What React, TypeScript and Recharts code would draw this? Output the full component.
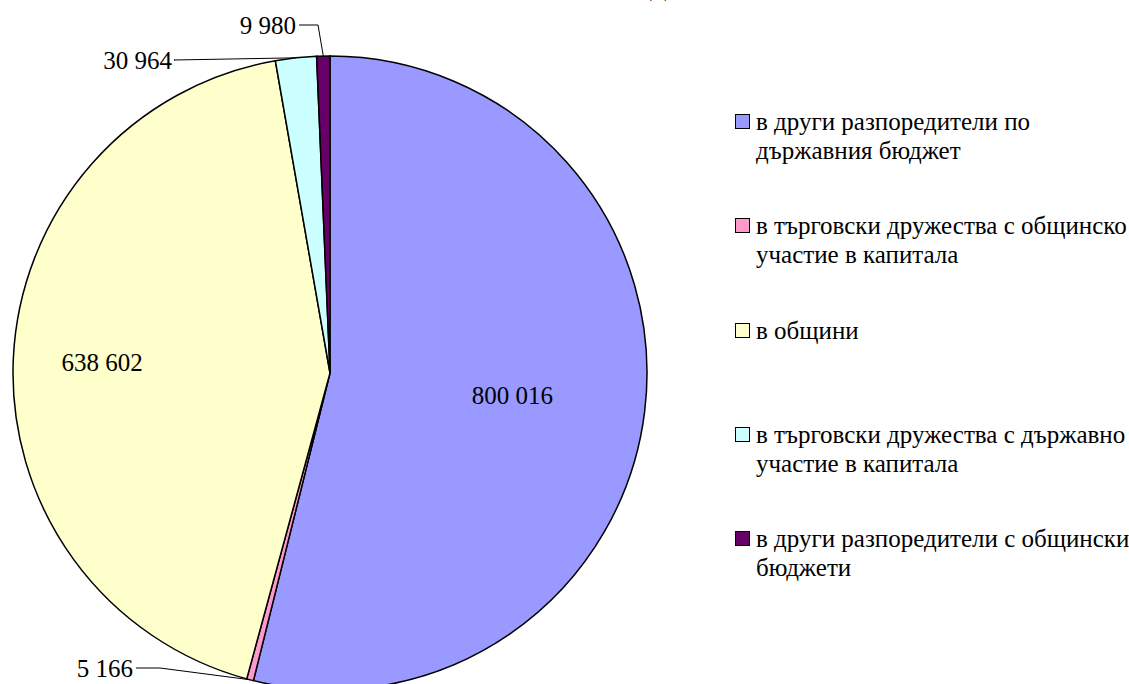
import React from 'react';
import { PieChart, Pie, Cell, Legend } from 'recharts';

// slice names, in drawing order (clockwise from 12 o'clock)
const names = [
  'в други разпоредители по държавния бюджет',
  'в търговски дружества с общинско участие в капитала',
  'в общини',
  'в търговски дружества с държавно участие в капитала',
  'в други разпоредители с общински бюджети',
];
const amounts = [800016, 5166, 638602, 30964, 9980];
const colors = ['#9999FF', '#FF99CC', '#FFFFCC', '#CCFFFF', '#660066'];

const data = names.map((name, i) => ({ name, value: amounts[i] }));

const FONT = 'Liberation Serif';
const RAD = Math.PI / 180;

const fmt = (n: number) => n.toString().replace(/\B(?=(\d{3})+(?!\d))/g, ' ');

// how each label is placed: inside at a fraction of the radius, or outside with a leader line
// (offsets are relative to the pie centre)
const labelPlacement: any[] = [
  { inside: 0.58 },
  { textX: -197, textY: 295, elbowX: -170 },
  { inside: 0.72 },
  { textX: -158, textY: -313, elbowX: -156 },
  { textX: -34, textY: -348, elbowX: -12 },
];

const renderLabel = (props: any) => {
  const { cx, cy, midAngle, outerRadius, index, value } = props;
  const p = labelPlacement[index];
  if (p.inside) {
    const r = outerRadius * p.inside;
    const x = cx + r * Math.cos(-midAngle * RAD);
    const y = cy + r * Math.sin(-midAngle * RAD);
    return (
      <text x={x} y={y} textAnchor="middle" dominantBaseline="central" style={{ fontFamily: FONT }} fontSize={25} fill="#000">
        {fmt(value)}
      </text>
    );
  }
  const ex = cx + outerRadius * Math.cos(-midAngle * RAD);
  const ey = cy + outerRadius * Math.sin(-midAngle * RAD);
  const tx = cx + p.textX;
  const ty = cy + p.textY;
  const bx = cx + p.elbowX;
  return (
    <g>
      <polyline points={`${tx + 3},${ty} ${bx},${ty} ${ex},${ey}`} fill="none" stroke="#000" strokeWidth={1} />
      <text x={tx} y={ty} textAnchor="end" dominantBaseline="central" style={{ fontFamily: FONT }} fontSize={25} fill="#000">
        {fmt(value)}
      </text>
    </g>
  );
};

const renderLegend = () => (
  <div style={{ position: 'relative', width: 400, height: 480, fontFamily: FONT, fontSize: 25, color: '#000' }}>
    {data.map((d, i) => (
      <div key={i} style={{ position: 'absolute', left: 0, top: i * 104.3, display: 'flex', alignItems: 'flex-start' }}>
        <div
          style={{
            width: 13,
            height: 13,
            marginTop: 7,
            marginRight: 6,
            background: colors[i],
            border: '1.5px solid #000',
            flexShrink: 0,
          }}
        />
        <div style={{ width: 374, lineHeight: '29px' }}>{d.name}</div>
      </div>
    ))}
  </div>
);

export default function App() {
  return (
    <div style={{ position: 'absolute', left: 0, top: 0, width: 1129, height: 684, overflow: 'hidden', background: '#fff' }}>
      {/* title is cut off at the top of the picture, only the foot of one letter shows */}
      <div style={{ position: 'absolute', left: 650, top: -25, fontFamily: FONT, fontSize: 24, color: '#000' }}>Д</div>
      <PieChart width={1129} height={684} margin={{ top: 0, right: 0, bottom: 0, left: 0 }}>
        <Pie
          data={data}
          dataKey="value"
          nameKey="name"
          cx={330}
          cy={373}
          outerRadius={317}
          startAngle={90}
          endAngle={-270}
          stroke="#000"
          strokeWidth={1.5}
          label={renderLabel}
          labelLine={false}
          isAnimationActive={false}
        >
          {data.map((_, i) => (
            <Cell key={i} fill={colors[i]} />
          ))}
        </Pie>
        <Legend
          content={renderLegend}
          layout="vertical"
          wrapperStyle={{ position: 'absolute', left: 735, top: 107, width: 400 }}
        />
      </PieChart>
    </div>
  );
}
